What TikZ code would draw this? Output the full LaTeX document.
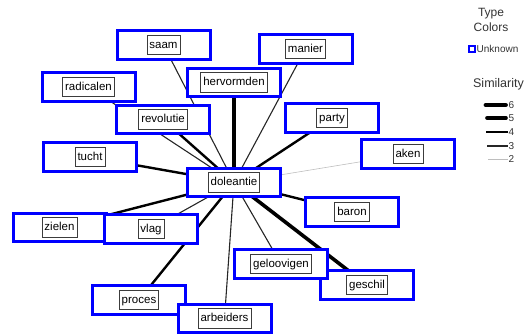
\documentclass[tikz,border=0pt]{standalone}
\usepackage{fontspec}
\setmainfont{Liberation Sans}
\usetikzlibrary{backgrounds}
\definecolor{pureblue}{RGB}{0,0,255}
\definecolor{framegray}{RGB}{60,60,60}
\definecolor{simtwo}{RGB}{190,190,190}
\tikzset{
  outerbox/.style={draw=pureblue, line width=3pt, fill=white, minimum width=93pt, minimum height=28.5pt, inner sep=0pt},
  innerbox/.style={draw=framegray, line width=0.8pt, fill=white, font=\fontsize{11.5}{13}\selectfont, text height=9pt, text depth=2.8pt, inner xsep=2.5pt, inner ysep=3.8pt},
  sim2/.style={draw=simtwo, line width=0.6pt},
  sim3/.style={draw=black!85, line width=1.1pt},
  sim4/.style={draw=black, line width=2.4pt},
  sim5/.style={draw=black, line width=3.6pt},
  sim6/.style={draw=black, line width=4.8pt},
  legtext/.style={font=\fontsize{12}{13}\selectfont, text=black!80, inner sep=0pt},
  legnum/.style={font=\fontsize{10}{11}\selectfont, text=black!80, inner sep=0pt, anchor=west}
}
\newcommand{\wordnode}[3]{%
  \node[outerbox] (#1) at (#2) {};
  \node[innerbox] (#1-t) at (#1) {#3};
}
\begin{document}
\begin{tikzpicture}[x=1pt, y=-1pt]
\useasboundingbox (0,0) rectangle (524,335);
% boxes (drawn in stacking order)
\wordnode{saam}{163.5,45}{saam}
\wordnode{radicalen}{88.5,87}{radicalen}
\wordnode{manier}{305.5,49}{manier}
\wordnode{hervormden}{234,82.5}{hervormden}
\wordnode{revolutie}{163,119.5}{revolutie}
\wordnode{party}{332,118}{party}
\wordnode{tucht}{90,157}{tucht}
\wordnode{aken}{408,154}{aken}
\wordnode{doleantie}{234,182.5}{doleantie}
\wordnode{baron}{352,212}{baron}
\wordnode{zielen}{59.5,227.5}{zielen}
\wordnode{vlag}{151,229}{vlag}
\wordnode{geschil}{367,285}{geschil}
\wordnode{geloovigen}{281,264}{geloovigen}
\wordnode{proces}{139,300}{proces}
\wordnode{arbeiders}{224.5,318.5}{arbeiders}
% edges behind
\begin{pgfonlayer}{background}
\draw[sim3] (doleantie.center) -- (saam.center);
\draw[sim3] (doleantie.center) -- (radicalen.center);
\draw[sim3] (doleantie.center) -- (manier.center);
\draw[sim6] (doleantie.center) -- (hervormden.center);
\draw[sim4] (doleantie.center) -- (revolutie.center);
\draw[sim4] (doleantie.center) -- (party.center);
\draw[sim4] (doleantie.center) -- (tucht.center);
\draw[sim2] (doleantie.center) -- (aken.center);
\draw[sim4] (doleantie.center) -- (baron.center);
\draw[sim4] (doleantie.center) -- (zielen.center);
\draw[sim3] (doleantie.center) -- (vlag.center);
\draw[sim5] (doleantie.center) -- (geschil.center);
\draw[sim3] (doleantie.center) -- (geloovigen.center);
\draw[sim4] (doleantie.center) -- (proces.center);
\draw[sim3] (doleantie.center) -- (arbeiders.center);
\end{pgfonlayer}
% legend
\node[legtext] (lt1) at (491,14) {Type};
\node[legtext] (lt2) at (491,27) {Colors};
\node[draw=pureblue, line width=2pt, minimum size=6pt, inner sep=0pt] (lsq) at (471.5,49) {};
\node[legnum] (lunk) at (476.5,49) {Unknown};
\node[legtext, font=\fontsize{12.5}{13}\selectfont] (lsim) at (498.5,84.5) {Similarity};
\coordinate (l6a) at (486,105); \coordinate (l6b) at (505.5,105);
\coordinate (l5a) at (487,118); \coordinate (l5b) at (506,118);
\coordinate (l4a) at (486,132); \coordinate (l4b) at (508,132);
\coordinate (l3a) at (487,146); \coordinate (l3b) at (508,146);
\coordinate (l2a) at (488,159); \coordinate (l2b) at (508,159);
\draw[sim6, line cap=round] (l6a) -- (l6b);
\draw[sim5, line cap=round] (l5a) -- (l5b);
\draw[sim4] (l4a) -- (l4b);
\draw[sim3] (l3a) -- (l3b);
\draw[sim2] (l2a) -- (l2b);
\node[legnum] (n6) at (508.5,105) {6};
\node[legnum] (n5) at (508.5,118) {5};
\node[legnum] (n4) at (508.5,132) {4};
\node[legnum] (n3) at (508.5,146) {3};
\node[legnum] (n2) at (508.5,159) {2};
\end{tikzpicture}
\end{document}
